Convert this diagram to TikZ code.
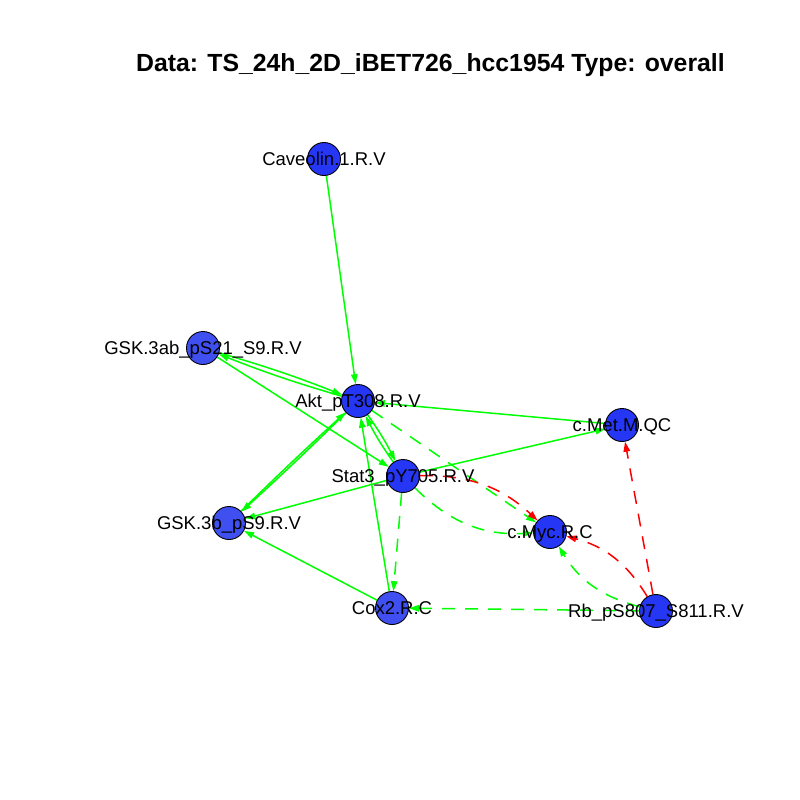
\documentclass[tikz,border=0pt]{standalone}
\usepackage{fontspec}
\setmainfont{Liberation Sans}
\usetikzlibrary{arrows.meta}
\pgfdeclarelayer{edges}
\pgfsetlayers{edges,main}
\definecolor{vxfill}{RGB}{38,54,245}
\definecolor{vxfillb}{RGB}{64,80,240}
\definecolor{posgreen}{RGB}{0,255,0}
\definecolor{negred}{RGB}{255,0,0}

\begin{document}
\begin{tikzpicture}[x=1pt,y=-1pt,
  vx/.style={circle,draw=black,line width=0.9pt,fill=vxfill,minimum size=33pt,inner sep=0pt},
  vxb/.style={vx,fill=vxfillb},
  lbl/.style={font=\fontsize{18.5}{20}\selectfont,inner sep=0pt,text height=13.2pt,text depth=0pt},
  ttl/.style={font=\bfseries\fontsize{24.8}{28}\selectfont,inner sep=0pt,text height=17.8pt,text depth=0pt},
  linkarc/.style={line width=1.5pt,-{Triangle[length=10pt,width=6.5pt]}},
  uplink/.style={linkarc,draw=posgreen},
  downlink/.style={linkarc,draw=negred},
  dsh/.style={dash pattern=on 13pt off 10pt}]

\useasboundingbox (0,0) rectangle (800,800);

% title
\node[ttl] (title) at (430.5,62.5) {Data: TS\_24h\_2D\_iBET726\_hcc1954 Type: overall};

% vertices
\node[vx]  (cav)  at (324,159) {};
\node[vxb] (gska) at (203,348) {};
\node[vx]  (akt)  at (358,401) {};
\node[vx]  (cmet) at (622,425) {};
\node[vx]  (stat) at (403,476) {};
\node[vxb] (gskb) at (229,523) {};
\node[vx]  (cmyc) at (550,532) {};
\node[vxb] (cox)  at (392,608) {};
\node[vx]  (rb)   at (656,611) {};

% edges, kept below the vertices
\begin{pgfonlayer}{edges}
\draw[uplink] (cav) -- (akt);
\draw[uplink] (gska) to[bend left=2.5] (akt);
\draw[uplink] (akt) to[bend left=2.5] (gska);
\draw[uplink] (gska) -- (stat);
\draw[uplink] (akt) to[bend left=1] (gskb);
\draw[uplink] (gskb) to[bend left=1] (akt);
\draw[uplink] (akt) to[bend left=4] (stat);
\draw[uplink] (stat) to[bend left=4] (akt);
\draw[uplink] (cmet) -- (akt);
\draw[uplink] (stat) -- (cmet);
\draw[uplink] (stat) -- (gskb);
\draw[uplink,dsh] (akt) -- (cmyc);
\draw[downlink,dsh] (stat) to[bend left=22] (cmyc);
\draw[uplink,dsh] (stat) to[bend right=24] (cmyc);
\draw[uplink,dsh] (stat) -- (cox);
\draw[uplink] (cox) -- (akt);
\draw[uplink] (cox) -- (gskb);
\draw[uplink,dsh] (rb) -- (cox);
\draw[downlink,dsh] (rb) -- (cmet);
\draw[downlink,dsh] (rb) to[bend right=22] (cmyc);
\draw[uplink,dsh] (rb) to[bend left=22] (cmyc);
\end{pgfonlayer}

% vertex labels, on top
\node[lbl] (cav-l)  at (cav)  {Caveolin.1.R.V};
\node[lbl] (gska-l) at (gska) {GSK.3ab\_pS21\_S9.R.V};
\node[lbl] (akt-l)  at (akt)  {Akt\_pT308.R.V};
\node[lbl] (cmet-l) at (cmet) {c.Met.M.QC};
\node[lbl] (stat-l) at (stat) {Stat3\_pY705.R.V};
\node[lbl] (gskb-l) at (gskb) {GSK.3b\_pS9.R.V};
\node[lbl] (cmyc-l) at (cmyc) {c.Myc.R.C};
\node[lbl] (cox-l)  at (cox)  {Cox2.R.C};
\node[lbl] (rb-l)   at (rb)   {Rb\_pS807\_S811.R.V};
\end{tikzpicture}
\end{document}
